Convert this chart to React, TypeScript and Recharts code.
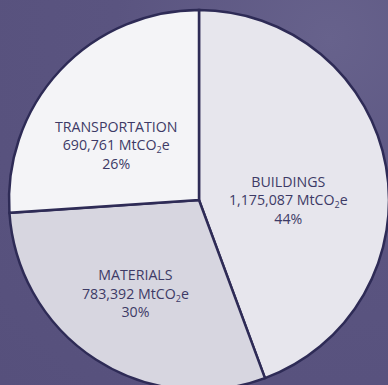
import React from 'react';
import { PieChart, Pie, Cell } from 'recharts';

const sectors = ['BUILDINGS', 'MATERIALS', 'TRANSPORTATION'];
const emissions = [1175087, 783392, 690761];
const shares = [44, 30, 26];

const sliceColors = ['#e7e6ed', '#d7d6e0', '#f4f4f7'];
// where each label sits: fraction of radius and shift from the slice mid-angle
const labelLayout = [
  { r: 0.47, shift: 11 },
  { r: 0.6, shift: 1 },
  { r: 0.52, shift: -10 },
];

const data = sectors.map((name, i) => ({ name, value: emissions[i], share: shares[i] }));

const RAD = Math.PI / 180;
const fmt = (n: number) => n.toLocaleString('en-US');

const renderLabel = (props: any) => {
  const { cx, cy, midAngle, outerRadius, index } = props;
  const lay = labelLayout[index];
  const a = (midAngle - lay.shift) * RAD;
  const x = cx + outerRadius * lay.r * Math.cos(a);
  const y = cy - outerRadius * lay.r * Math.sin(a);
  const d = data[index];
  return (
    <text
      x={x}
      y={y}
      textAnchor="middle"
      fill="#3d3a66"
      fontSize={14.2}
      fontFamily="'Open Sans', sans-serif"
    >
      <tspan x={x} dy={-14.5}>{d.name}</tspan>
      <tspan x={x} dy={18.5}>{fmt(d.value)} MtCO</tspan>
      <tspan fontSize={9} dy={3}>2</tspan>
      <tspan dy={-3}>e</tspan>
      <tspan x={x} dy={18.5}>{d.share}%</tspan>
    </text>
  );
};

export default function App() {
  return (
    <div
      style={{
        position: 'absolute',
        left: 0,
        top: 0,
        width: 388,
        height: 385,
        overflow: 'hidden',
        background: 'radial-gradient(circle at 85% 10%, #67628c 0%, #5a5480 45%, #56507c 100%)',
      }}
    >
      <PieChart width={388} height={385} margin={{ top: 0, right: 0, bottom: 0, left: 0 }}>
        <Pie
          data={data}
          dataKey="value"
          cx={199}
          cy={200}
          outerRadius={190}
          startAngle={90}
          endAngle={-270}
          stroke="#2e2b56"
          strokeWidth={2.5}
          label={renderLabel}
          labelLine={false}
          isAnimationActive={false}
        >
          {data.map((d, i) => (
            <Cell key={d.name} fill={sliceColors[i]} />
          ))}
        </Pie>
      </PieChart>
    </div>
  );
}
